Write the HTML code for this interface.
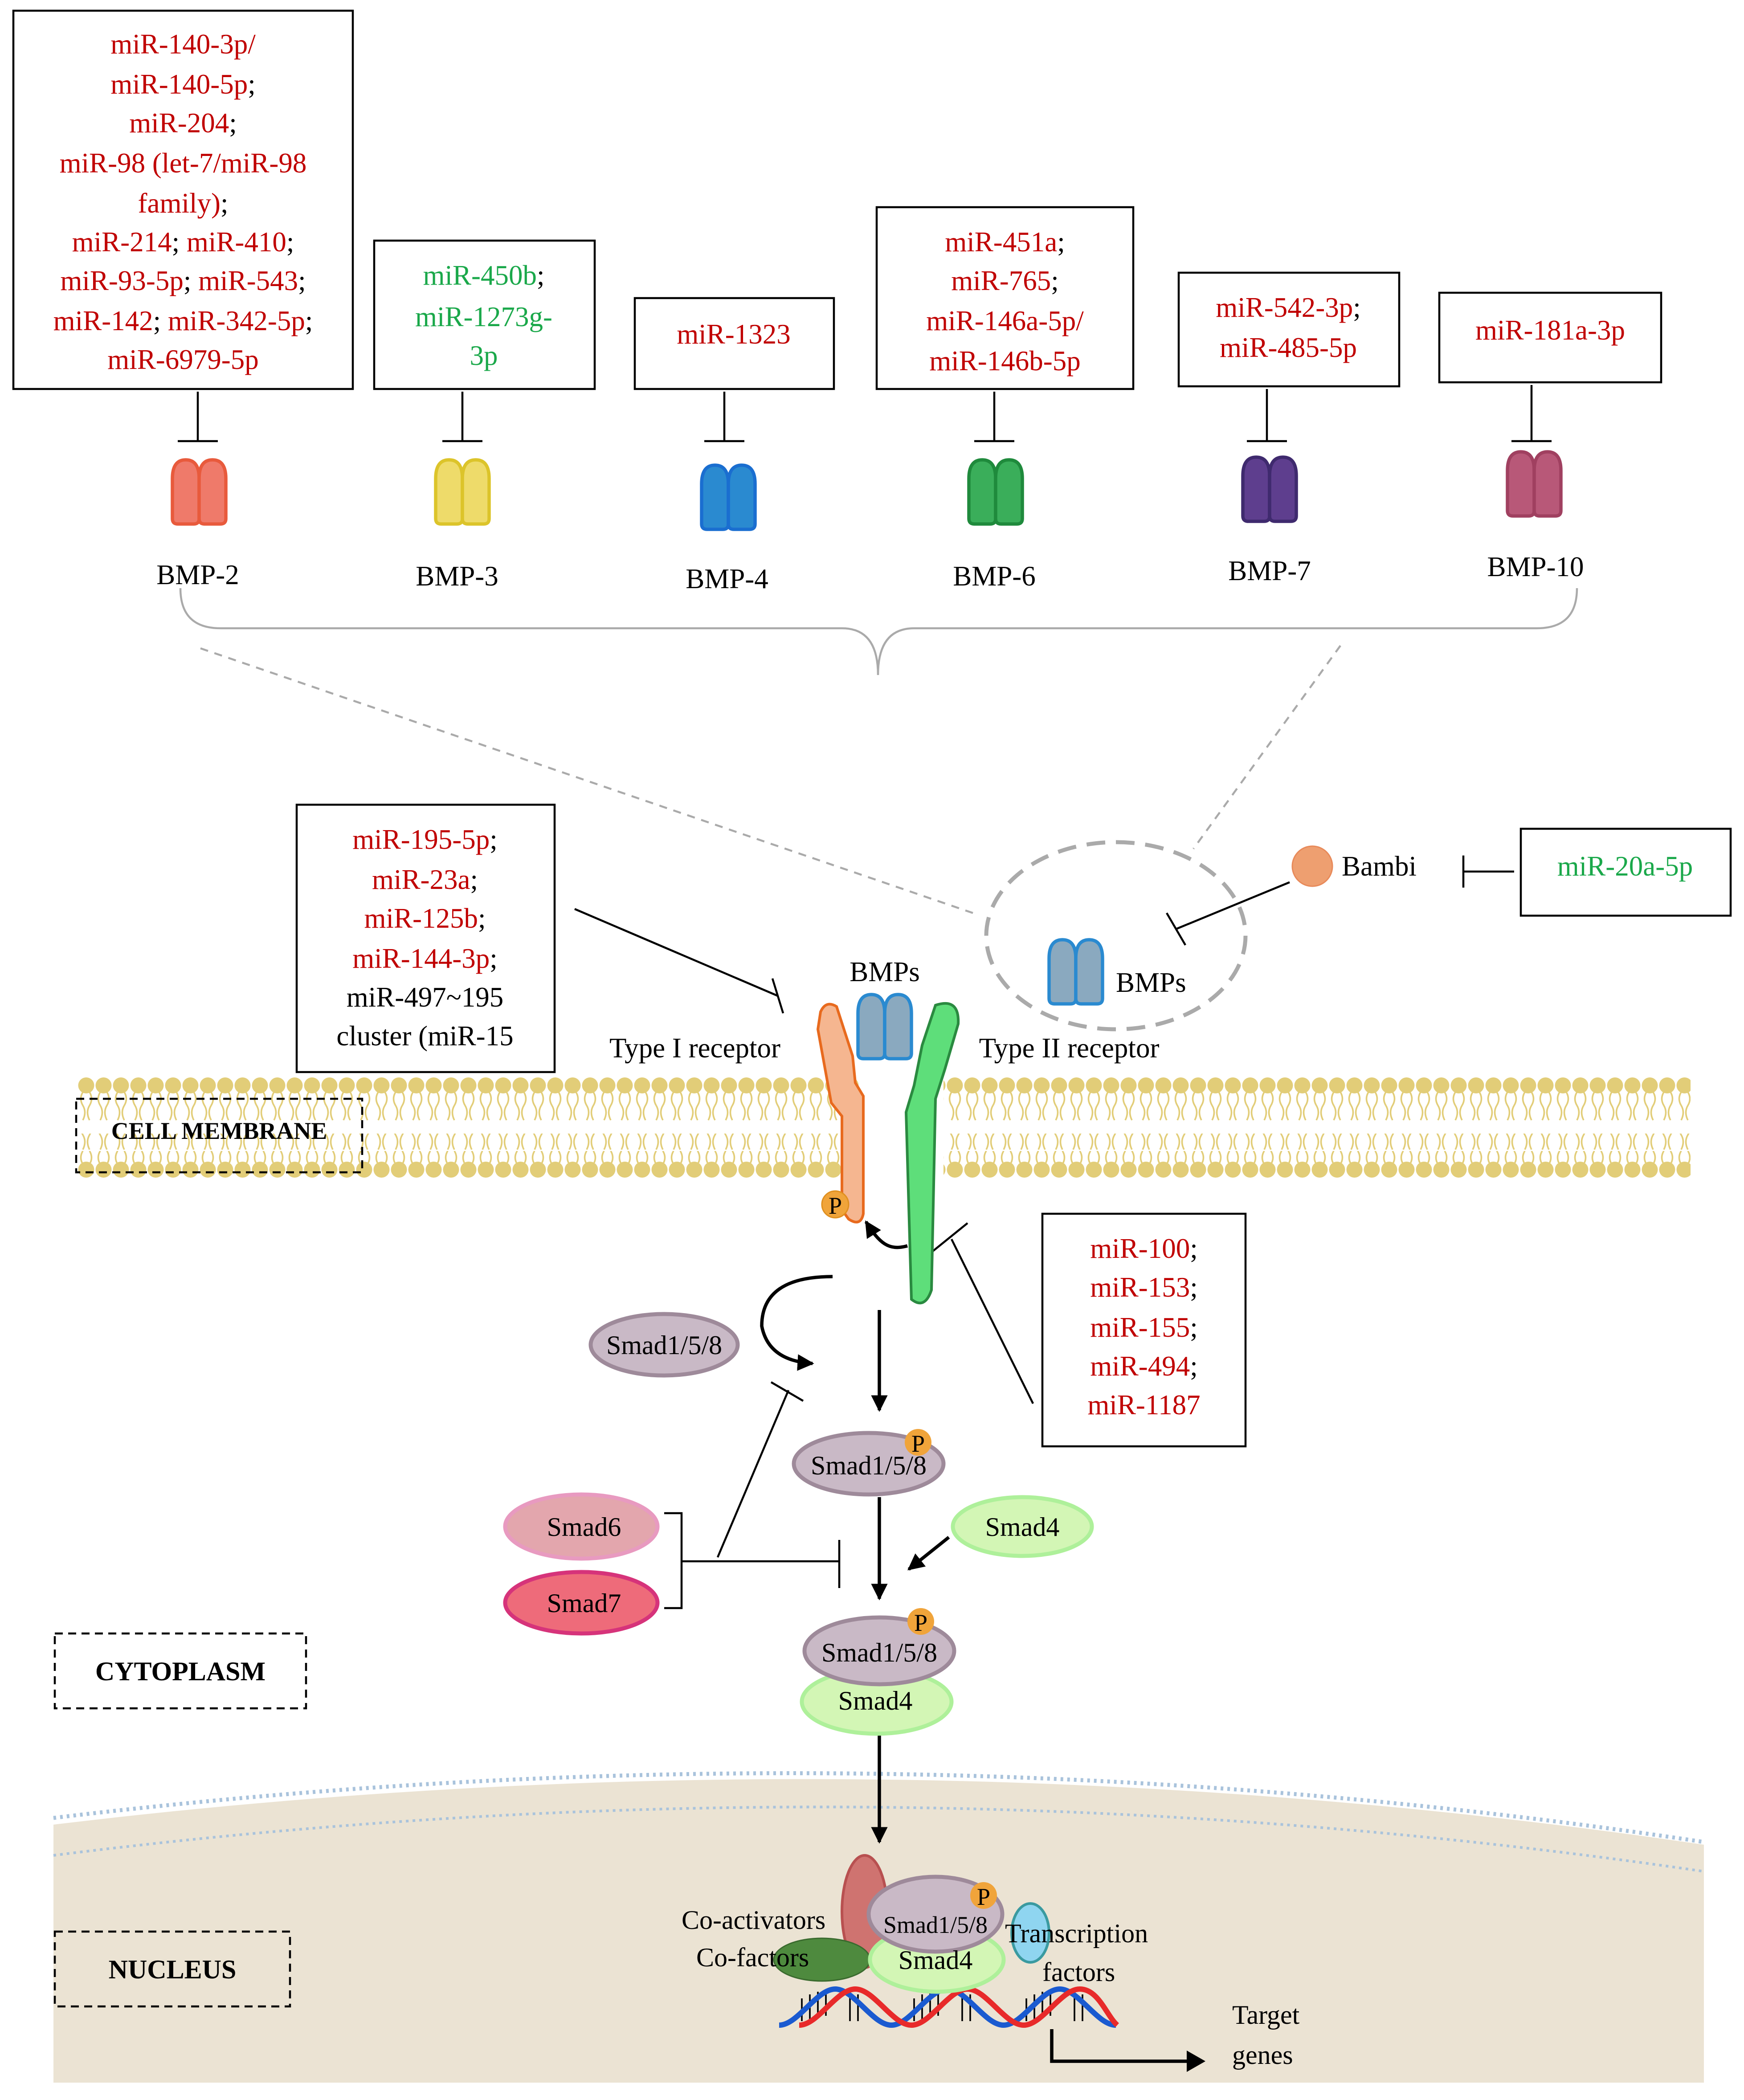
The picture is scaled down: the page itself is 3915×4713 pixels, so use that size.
<!DOCTYPE html>
<html><head><meta charset="utf-8"><style>
html,body{margin:0;padding:0;background:#fff;}
svg{display:block}
text{font-family:"Liberation Serif",serif;}
</style></head><body>
<svg width="3915" height="4713" viewBox="0 0 1305 1571" xmlns="http://www.w3.org/2000/svg">
<defs>
<marker id="ah" viewBox="0 0 10 10" refX="9" refY="5" markerWidth="5" markerHeight="5" orient="auto"><path d="M0,0L10,5L0,10z" fill="#000"/></marker>
<g id="bmp"><path d="M-20,20 L-20,-10 Q-20,-24 -10,-24 Q0,-24 0,-10 L0,20 Q0,24 -4,24 L-16,24 Q-20,24 -20,20 Z"/><path d="M0,20 L0,-10 Q0,-24 10,-24 Q20,-24 20,-10 L20,20 Q20,24 16,24 L4,24 Q0,24 0,20 Z"/></g>
<pattern id="hTop" x="58" y="805" width="13" height="14" patternUnits="userSpaceOnUse"><circle cx="6.5" cy="7" r="6" fill="#e2cd78"/></pattern>
<pattern id="hBot" x="58" y="868" width="13" height="14" patternUnits="userSpaceOnUse"><circle cx="6.5" cy="7" r="6" fill="#e2cd78"/></pattern>
<pattern id="tTop" x="58" y="817" width="13" height="22" patternUnits="userSpaceOnUse"><path d="M4,0 q-3,5 0,10 t0,11 M9,0 q3,5 0,10 t0,11" fill="none" stroke="#e2cd78" stroke-width="1.2"/></pattern>
<pattern id="tBot" x="58" y="848" width="13" height="22" patternUnits="userSpaceOnUse"><path d="M4,0 q-3,5 0,10 t0,11 M9,0 q3,5 0,10 t0,11" fill="none" stroke="#e2cd78" stroke-width="1.2"/></pattern>
</defs>

<!-- nucleus -->
<path d="M40,1365 Q660,1290 1275,1380 L1275,1558 L40,1558 Z" fill="#ebe3d3"/>
<path d="M40,1360 Q660,1285 1275,1378" fill="none" stroke="#a9c3dc" stroke-width="3" stroke-dasharray="2,3"/>
<path d="M40,1388 Q660,1310 1275,1400" fill="none" stroke="#a9c3dc" stroke-width="2" stroke-dasharray="2,3"/>

<!-- top boxes -->
<g fill="none" stroke="#000" stroke-width="1.5">
<rect x="10" y="8" width="254" height="283"/>
<rect x="280" y="180" width="165" height="111"/>
<rect x="475" y="223" width="149" height="68"/>
<rect x="656" y="155" width="192" height="136"/>
<rect x="882" y="204" width="165" height="85"/>
<rect x="1077" y="219" width="166" height="67"/>
<rect x="222" y="602" width="193" height="200"/>
<rect x="1138" y="620" width="157" height="65"/>
<rect x="780" y="908" width="152" height="174"/>
</g>
<g font-size="21" text-anchor="middle" fill="#c00000">
<text x="137" y="40">miR-140-3p/</text>
<text x="137" y="70">miR-140-5p<tspan fill="#000">;</tspan></text>
<text x="137" y="99">miR-204<tspan fill="#000">;</tspan></text>
<text x="137" y="129">miR-98 (let-7/miR-98</text>
<text x="137" y="159">family)<tspan fill="#000">;</tspan></text>
<text x="137" y="188">miR-214<tspan fill="#000">; </tspan>miR-410<tspan fill="#000">;</tspan></text>
<text x="137" y="217">miR-93-5p<tspan fill="#000">; </tspan>miR-543<tspan fill="#000">;</tspan></text>
<text x="137" y="247">miR-142<tspan fill="#000">; </tspan>miR-342-5p<tspan fill="#000">;</tspan></text>
<text x="137" y="276">miR-6979-5p</text>
<text x="362" y="213" fill="#1aa84a">miR-450b<tspan fill="#000">;</tspan></text>
<text x="362" y="244" fill="#1aa84a">miR-1273g-</text>
<text x="362" y="273" fill="#1aa84a">3p</text>
<text x="549" y="257">miR-1323</text>
<text x="752" y="188">miR-451a<tspan fill="#000">;</tspan></text>
<text x="752" y="217">miR-765<tspan fill="#000">;</tspan></text>
<text x="752" y="247">miR-146a-5p/</text>
<text x="752" y="277">miR-146b-5p</text>
<text x="964" y="237">miR-542-3p<tspan fill="#000">;</tspan></text>
<text x="964" y="267">miR-485-5p</text>
<text x="1160" y="254">miR-181a-3p</text>
<text x="318" y="635">miR-195-5p<tspan fill="#000">;</tspan></text>
<text x="318" y="665">miR-23a<tspan fill="#000">;</tspan></text>
<text x="318" y="694">miR-125b<tspan fill="#000">;</tspan></text>
<text x="318" y="724">miR-144-3p<tspan fill="#000">;</tspan></text>
<text x="318" y="753" fill="#000">miR-497~195</text>
<text x="318" y="782" fill="#000">cluster (miR-15</text>
<text x="1216" y="655" fill="#1aa84a">miR-20a-5p</text>
<text x="856" y="941">miR-100<tspan fill="#000">;</tspan></text>
<text x="856" y="970">miR-153<tspan fill="#000">;</tspan></text>
<text x="856" y="1000">miR-155<tspan fill="#000">;</tspan></text>
<text x="856" y="1029">miR-494<tspan fill="#000">;</tspan></text>
<text x="856" y="1058">miR-1187</text>
</g>

<g stroke="#000" stroke-width="1.5" fill="none">
<path d="M148,293V330M133,330H163"/>
<path d="M346,293V330M331,330H361"/>
<path d="M542,293V330M527,330H557"/>
<path d="M744,293V330M729,330H759"/>
<path d="M948,291V330M933,330H963"/>
<path d="M1146,288V330M1131,330H1161"/>
</g>
<g stroke-width="2.5">
<use href="#bmp" x="149" y="368" fill="#ef7a6a" stroke="#e85a3c"/>
<use href="#bmp" x="346" y="368" fill="#eedb6a" stroke="#dcc42a"/>
<use href="#bmp" x="545" y="372" fill="#2a8ad0" stroke="#1a6ed0"/>
<use href="#bmp" x="745" y="368" fill="#3aae5a" stroke="#1f8a3c"/>
<use href="#bmp" x="950" y="366" fill="#5e3e8e" stroke="#3f2a6e"/>
<use href="#bmp" x="1148" y="362" fill="#b85878" stroke="#a04060"/>
<use href="#bmp" x="805" y="727" fill="#8aa9bf" stroke="#2a8ad0"/>
<use href="#bmp" x="662" y="768" fill="#8aa9bf" stroke="#2a8ad0"/>
</g>
<g font-size="21" text-anchor="middle" fill="#000">
<text x="148" y="437">BMP-2</text>
<text x="342" y="438">BMP-3</text>
<text x="544" y="440">BMP-4</text>
<text x="744" y="438">BMP-6</text>
<text x="950" y="434">BMP-7</text>
<text x="1149" y="431">BMP-10</text>
</g>
<path d="M135,440 Q135,470 165,470 L630,470 Q657,470 657,505 Q657,470 684,470 L1150,470 Q1180,470 1180,440" fill="none" stroke="#aaa" stroke-width="1.5"/>
<g stroke="#aaa" stroke-width="1.5" stroke-dasharray="6,5" fill="none">
<path d="M150,485L728,683"/><path d="M1003,483L893,635"/>
</g>
<ellipse cx="835" cy="700" rx="97" ry="70" fill="none" stroke="#aaa" stroke-width="3" stroke-dasharray="14,8"/>
<text x="835" y="742" font-size="21">BMPs</text>
<circle cx="982" cy="648" r="15" fill="#ee9f70" stroke="#e88a5a"/>
<text x="1004" y="655" font-size="21">Bambi</text>
<g stroke="#000" stroke-width="1.5" fill="none">
<path d="M965,660L880,695M873,683L887,707"/>
<path d="M1133,652H1095M1095,640V664"/>
<path d="M430,680L582,745M578,732L586,758"/>
<path d="M773,1050L712,927M698,936L724,915"/>
<path d="M537,1165L590,1040M577,1034L601,1048"/>
<path d="M532,1168H628M628,1152V1188"/>
<path d="M497,1132H510V1203H497M510,1168H532"/>
</g>
<text x="662" y="734" font-size="21" text-anchor="middle">BMPs</text>
<text x="520" y="791" font-size="21" text-anchor="middle">Type I receptor</text>
<text x="800" y="791" font-size="21" text-anchor="middle">Type II receptor</text>

<!-- membrane -->
<rect x="58" y="805" width="585" height="14" fill="url(#hTop)"/>
<rect x="706" y="805" width="559" height="14" fill="url(#hTop)"/>
<rect x="58" y="868" width="585" height="14" fill="url(#hBot)"/>
<rect x="706" y="868" width="559" height="14" fill="url(#hBot)"/>
<rect x="58" y="817" width="585" height="22" fill="url(#tTop)"/>
<rect x="706" y="817" width="559" height="22" fill="url(#tTop)"/>
<rect x="58" y="848" width="585" height="22" fill="url(#tTop)"/>
<rect x="706" y="848" width="559" height="22" fill="url(#tTop)"/>
<rect x="57" y="822" width="214" height="55" fill="none" stroke="#000" stroke-width="1.5" stroke-dasharray="6,4"/>
<text x="164" y="852" font-size="18" font-weight="bold" text-anchor="middle">CELL MEMBRANE</text>
<rect x="41" y="1222" width="188" height="56" fill="none" stroke="#000" stroke-width="1.5" stroke-dasharray="6,4"/>
<rect x="41" y="1445" width="176" height="56" fill="none" stroke="#000" stroke-width="1.5" stroke-dasharray="6,4"/>

<!-- receptors -->
<path d="M614,757 Q618,748 626,753 L638,790 L640,810 L646,820 L646,908 Q644,918 635,912 L630,905 L630,835 L622,825 L612,770 Z" fill="#f5b690" stroke="#e86a1e" stroke-width="2"/>
<path d="M700,752 Q718,746 717,766 L707,800 L700,822 L697,965 Q692,980 682,972 L678,832 L684,812 L690,782 Z" fill="#5ede7a" stroke="#2a8a40" stroke-width="2"/>
<circle cx="625" cy="901" r="10" fill="#f0a43a" stroke="#e09020"/>
<text x="625" y="908" font-size="18" text-anchor="middle">P</text>
<path d="M679,932 C665,936 658,930 648,914" fill="none" stroke="#000" stroke-width="2.5" marker-end="url(#ah)"/>
<path d="M623,955 Q570,955 570,992 Q575,1018 608,1020" fill="none" stroke="#000" stroke-width="2.5" marker-end="url(#ah)"/>

<g stroke="#000" stroke-width="2.5" fill="none" marker-end="url(#ah)">
<path d="M658,980V1055"/><path d="M658,1120V1196"/><path d="M710,1150L680,1174"/><path d="M658,1298V1378"/>
</g>

<g font-size="20" text-anchor="middle">
<ellipse cx="497" cy="1006" rx="55" ry="23" fill="#c9b9c6" stroke="#9e8a9a" stroke-width="3"/>
<text x="497" y="1013">Smad1/5/8</text>
<ellipse cx="650" cy="1095" rx="56" ry="23" fill="#c9b9c6" stroke="#9e8a9a" stroke-width="3"/>
<text x="650" y="1103">Smad1/5/8</text>
<circle cx="687" cy="1079" r="10" fill="#f0a43a"/><text x="687" y="1086" font-size="18">P</text>
<ellipse cx="435" cy="1142" rx="57" ry="24" fill="#e3a6ad" stroke="#e89ac0" stroke-width="3"/>
<text x="437" y="1149">Smad6</text>
<ellipse cx="435" cy="1199" rx="57" ry="23" fill="#ee6b7a" stroke="#d6337a" stroke-width="3"/>
<text x="437" y="1206">Smad7</text>
<ellipse cx="765" cy="1142" rx="52" ry="22" fill="#d3f6b5" stroke="#aef09a" stroke-width="3"/>
<text x="765" y="1149">Smad4</text>
<ellipse cx="656" cy="1273" rx="56" ry="24" fill="#d3f6b5" stroke="#aef09a" stroke-width="3"/>
<text x="655" y="1279">Smad4</text>
<ellipse cx="658" cy="1235" rx="56" ry="25" fill="#c9b9c6" stroke="#9e8a9a" stroke-width="3"/>
<text x="658" y="1243">Smad1/5/8</text>
<circle cx="689" cy="1213" r="10" fill="#f0a43a"/><text x="689" y="1220" font-size="18">P</text>
</g>
<text x="135" y="1257" font-size="20" font-weight="bold" text-anchor="middle">CYTOPLASM</text>
<text x="129" y="1480" font-size="20" font-weight="bold" text-anchor="middle">NUCLEUS</text>

<!-- DNA -->
<g stroke="#000" stroke-width="1.2">
<path d="M600,1512V1495M606,1512V1492M612,1510V1490M618,1508V1490M636,1512V1490M642,1512V1492M684,1512V1495M690,1512V1492M696,1510V1490M702,1508V1490M720,1512V1490M726,1512V1492M768,1512V1495M774,1512V1492M780,1510V1490M786,1508V1490M804,1512V1490M810,1512V1492"/>
</g>
<g fill="none" stroke-width="4">
<path d="M583,1515 C597,1515 611,1488 625,1488 C639,1488 653,1515 667,1515 C681,1515 695,1488 709,1488 C723,1488 737,1515 751,1515 C765,1515 779,1488 793,1488 C807,1488 821,1515 835,1515" stroke="#1a5ad0"/>
<path d="M598,1515 C612,1515 626,1488 640,1488 C654,1488 668,1515 682,1515 C696,1515 710,1488 724,1488 C738,1488 752,1515 766,1515 C780,1515 794,1488 808,1488 C822,1488 828,1508 836,1515" stroke="#e82a2a"/>
</g>

<!-- nucleus complex -->
<ellipse cx="647" cy="1430" rx="17" ry="42" fill="#cf7370" stroke="#b85050" stroke-width="2"/>
<ellipse cx="615" cy="1466" rx="36" ry="16" fill="#4e8a3e" stroke="#3a6a2e"/>
<ellipse cx="701" cy="1466" rx="50" ry="24" fill="#d3f6b5" stroke="#aef09a" stroke-width="3"/>
<ellipse cx="700" cy="1432" rx="50" ry="28" fill="#c9b9c6" stroke="#9e8a9a" stroke-width="3"/>
<ellipse cx="771" cy="1446" rx="14" ry="22" fill="#8fd5f0" stroke="#3a9aa0" stroke-width="2"/>
<circle cx="736" cy="1418" r="10" fill="#f0a43a"/>
<g font-size="20">
<text x="736" y="1425" text-anchor="middle" font-size="18">P</text>
<text x="700" y="1446" text-anchor="middle" font-size="18">Smad1/5/8</text>
<text x="700" y="1473" text-anchor="middle">Smad4</text>
<text x="510" y="1443">Co-activators</text>
<text x="521" y="1471">Co-factors</text>
<text x="752" y="1453">Transcription</text>
<text x="780" y="1482">factors</text>
<text x="922" y="1514">Target</text>
<text x="922" y="1544">genes</text>
</g>
<path d="M787,1518V1542H890" fill="none" stroke="#000" stroke-width="2.5"/>
<path d="M888,1534L902,1542L888,1550Z" fill="#000"/>
</svg>
</body></html>
